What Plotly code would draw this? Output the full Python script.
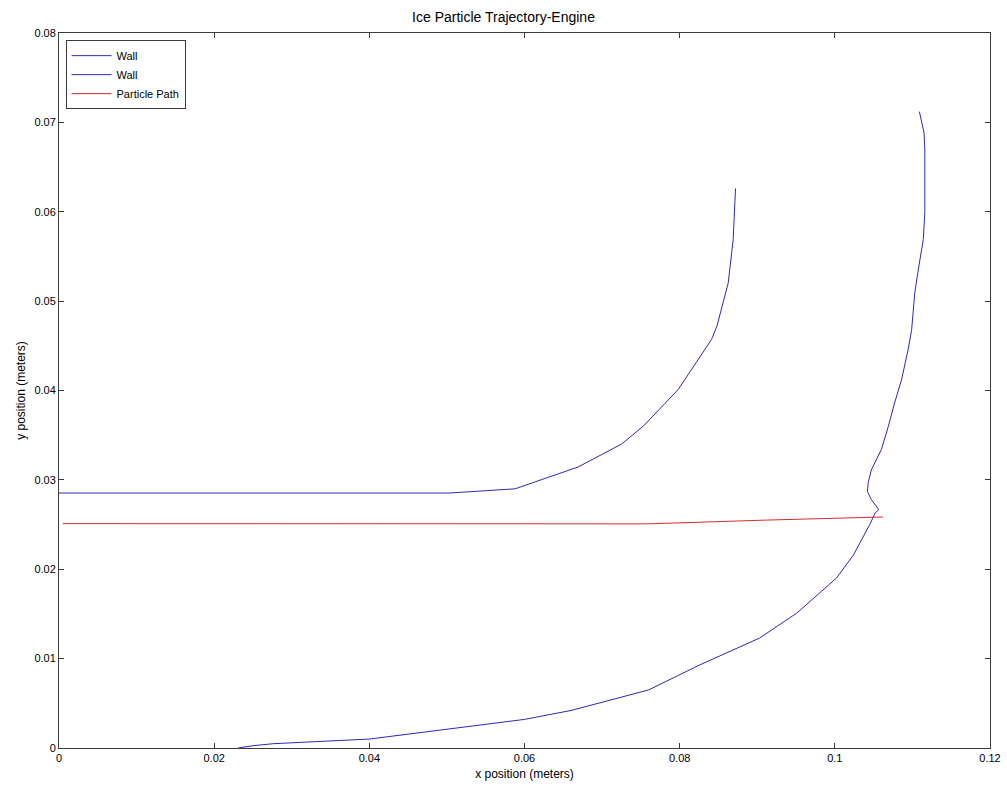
import plotly.graph_objects as go

# Upper wall
wall1_x = [0.0, 0.0504, 0.0588, 0.0669, 0.0725, 0.0753, 0.0798, 0.0841, 0.0848, 0.08625, 0.0869, 0.0871, 0.0872]
wall1_y = [0.02853, 0.02853, 0.0290, 0.03144, 0.0340, 0.0360, 0.0401, 0.0457, 0.0472, 0.0520, 0.0569, 0.0600, 0.0626]

# Lower wall
wall2_x = [0.0231, 0.0250, 0.0276, 0.0306, 0.0340, 0.0400, 0.0600, 0.0660, 0.0760, 0.0826, 0.0903, 0.0951,
           0.1002, 0.1024, 0.1045, 0.1052, 0.10567, 0.1047, 0.1042, 0.1043, 0.1047, 0.1060, 0.1069, 0.1077,
           0.1086, 0.10945, 0.1099, 0.1103, 0.1107, 0.1114, 0.1116, 0.1116, 0.1115, 0.1112, 0.1109]
wall2_y = [0.0, 0.00026, 0.00048, 0.0006, 0.0007, 0.0010, 0.0032, 0.0042, 0.0065, 0.0093, 0.0123, 0.0151,
           0.0190, 0.0216, 0.0250, 0.0263, 0.02667, 0.0278, 0.0287, 0.0297, 0.0311, 0.0334, 0.0360, 0.0386,
           0.0412, 0.0446, 0.0468, 0.0509, 0.0532, 0.0569, 0.0599, 0.0669, 0.0688, 0.0699, 0.0712]

# Particle path
path_x = [0.0005, 0.0759, 0.0912, 0.1062]
path_y = [0.0251, 0.02508, 0.0255, 0.02585]

x_ticks = [0, 0.02, 0.04, 0.06, 0.08, 0.1, 0.12]
y_ticks = [0, 0.01, 0.02, 0.03, 0.04, 0.05, 0.06, 0.07, 0.08]

FONT = "Liberation Sans, Arial, sans-serif"
BLUE = "#2a2ab4"
RED = "#d42c2c"
AXC = "#3a3a3a"

fig = go.Figure()
fig.add_trace(go.Scatter(x=wall1_x, y=wall1_y, mode="lines", name="Wall",
                         line=dict(color=BLUE, width=1)))
fig.add_trace(go.Scatter(x=wall2_x, y=wall2_y, mode="lines", name="Wall",
                         line=dict(color=BLUE, width=1)))
fig.add_trace(go.Scatter(x=path_x, y=path_y, mode="lines", name="Particle Path",
                         line=dict(color=RED, width=1)))

axis_common = dict(showline=True, linecolor=AXC, linewidth=1, mirror="ticks",
                   ticks="inside", ticklen=5, tickcolor=AXC, showgrid=False,
                   zeroline=False, automargin=False,
                   tickfont=dict(family=FONT, size=11, color="#000000"))

fig.update_layout(
    width=1007, height=793, autosize=False,
    paper_bgcolor="white", plot_bgcolor="white",
    margin=dict(l=59, r=17, t=33, b=45, autoexpand=False),
    title=dict(text="Ice Particle Trajectory-Engine", x=0.5, xanchor="center",
               y=0.985, yanchor="top", font=dict(family=FONT, size=14, color="#000000")),
    xaxis=dict(range=[0, 0.12], tickvals=x_ticks,
               title=dict(text="x position (meters)", font=dict(family=FONT, size=12, color="#000000"),
                          standoff=6),
               **axis_common),
    yaxis=dict(range=[0, 0.08], tickvals=y_ticks,
               title=dict(text="y position (meters)", font=dict(family=FONT, size=12, color="#000000"),
                          standoff=6),
               **axis_common),
    legend=dict(x=0.007, y=0.99, xanchor="left", yanchor="top",
                bgcolor="white", bordercolor=AXC, borderwidth=1,
                font=dict(family=FONT, size=11, color="#000000"),
                tracegroupgap=0, itemwidth=40),
    showlegend=True,
)

fig.write_html("out.html")
